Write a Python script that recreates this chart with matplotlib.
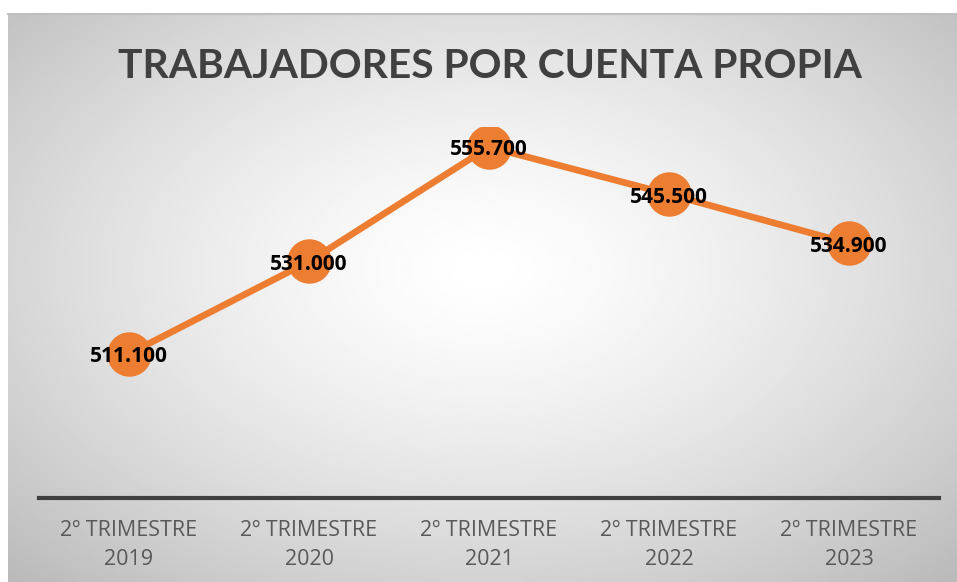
import matplotlib.pyplot as plt
import numpy as np

# Datos
categorias = ["2º TRIMESTRE\n2019", "2º TRIMESTRE\n2020", "2º TRIMESTRE\n2021",
              "2º TRIMESTRE\n2022", "2º TRIMESTRE\n2023"]
trabajadores = [511100, 531000, 555700, 545500, 534900]

titulo = "TRABAJADORES POR CUENTA PROPIA"
naranja = "#ED7D31"

fig = plt.figure(figsize=(9.57, 5.82), dpi=100)
fig.patch.set_facecolor("white")

# Fondo con degradado radial (zona del gráfico)
W, H = 957, 582
x0, y0 = 8, 14
bg = fig.add_axes([x0 / W, 0, 1 - x0 / W, 1 - y0 / H])
gx, gy = np.meshgrid(np.linspace(0, 1, 400), np.linspace(0, 1, 300))
r = np.sqrt(((gx - 0.5) / 0.72) ** 2 + ((gy - 0.55) / 0.75) ** 2)
val = np.clip(1 - 0.27 * r ** 1.4, 0, 1)
bg.imshow(val, cmap="gray", vmin=0, vmax=1, aspect="auto", extent=[0, 1, 0, 1], origin="lower")
bg.axis("off")
bg.plot([0, 1], [1, 1], color="#bfbfbf", lw=1.5, transform=bg.transAxes, clip_on=False)

ax = fig.add_axes([39 / W, 1 - 498 / H, 900 / W, (498 - 127) / H])
ax.patch.set_alpha(0)
x = np.arange(len(categorias))
ax.plot(x, trabajadores, color=naranja, lw=4.8, marker="o", ms=31,
        markerfacecolor=naranja, markeredgecolor=naranja, solid_capstyle="round")
for xi, v in zip(x, trabajadores):
    ax.annotate(f"{v:,}".replace(",", "."), (xi, v), xytext=(0, -2), textcoords="offset points",
                ha="center", va="center", fontsize=15, fontweight="bold", color="black",
                family="Open Sans")

ax.set_xlim(-0.5, len(categorias) - 0.5)
ax.set_ylim(480000, 560000)
ax.set_yticks([])
ax.set_xticks(x)
ax.set_xticklabels(categorias, fontsize=15.5, color="#595959", family="Open Sans", linespacing=1.5)
ax.tick_params(axis="x", length=0, pad=16)
for s in ["top", "right", "left"]:
    ax.spines[s].set_visible(False)
ax.spines["bottom"].set_color("#404040")
ax.spines["bottom"].set_linewidth(3)

fig.text(490 / W, 1 - 67 / H, titulo, ha="center", va="center", fontsize=29.3,
         fontweight="bold", color="#404040", family="Lato")

fig.savefig("out.png", dpi=100)
